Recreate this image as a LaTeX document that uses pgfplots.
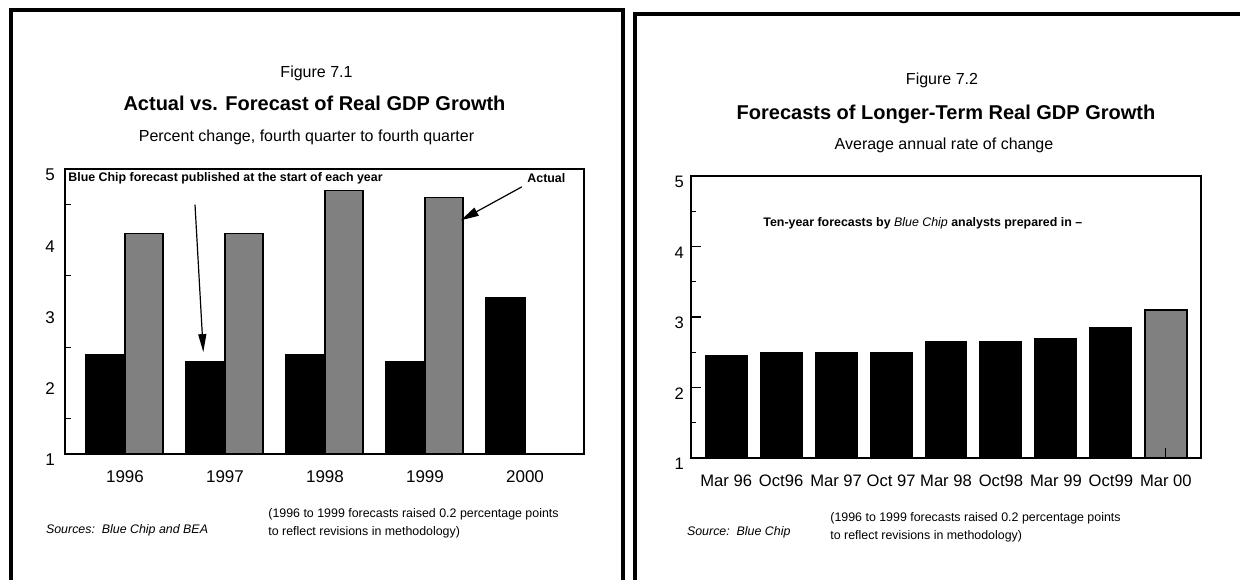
\documentclass[border=0pt]{standalone}
\usepackage{fontspec}
\setmainfont{Liberation Sans}
\usepackage{pgfplots}
\pgfplotsset{compat=1.18}
\usetikzlibrary{arrows.meta}
\definecolor{bargray}{HTML}{808080}
\newcommand{\fs}[1]{\fontsize{#1}{#1}\selectfont}

\begin{document}
\begin{tikzpicture}
\path[use as bounding box] (0pt,0pt) rectangle (620pt,289.5pt);
\clip (0pt,0pt) rectangle (620pt,289.5pt);

% panel frames
\draw[line width=2pt] (5.5pt,-5pt) -- (5.5pt,284.5pt) -- (311.5pt,284.5pt) -- (311.5pt,-5pt);
\draw[line width=2pt] (317.5pt,-5pt) -- (317.5pt,282.5pt) -- (630pt,282.5pt);

% ---------------- Left chart ----------------
\node[anchor=base, font=\fs{8}] at (158.25pt,250.5pt) {Figure 7.1};
\node[anchor=base, font=\bfseries\fs{10}] at (157.25pt,234pt) {Actual vs. Forecast of Real GDP Growth};
\node[anchor=base, font=\fs{8}] at (153.25pt,218.5pt) {Percent change, fourth quarter to fourth quarter};

\begin{axis}[
  at={(32.5pt,62.5pt)}, anchor=south west,
  width=259.5pt, height=142.5pt, scale only axis,
  xmin=-0.6, xmax=4.59, ymin=1, ymax=5,
  xtick={0,1,2,3,4}, xticklabels={1996,1997,1998,1999,2000},
  ytick={1,2,3,4,5}, minor ytick={1.5,2.5,3.5,4.5},
  tick align=inside, ytick pos=left, xtick pos=bottom,
  major tick length=0pt, minor tick length=3pt,
  axis line style={line width=0.6pt},
  every tick/.style={black, line width=0.6pt},
  /pgf/number format/assume math mode=true,
  tick label style={font=\fs{8.5}},
  yticklabel style={yshift=-3pt, xshift=-1.5pt},
  xticklabel style={yshift=-5pt},
]
\addplot[ybar, bar width=0.39, bar shift=-0.195, fill=black, draw=black, line width=0.6pt]
  coordinates {(0,2.4) (1,2.3) (2,2.4) (3,2.3) (4,3.2)};
\addplot[ybar, bar width=0.38, bar shift=0.19, fill=bargray, draw=black, line width=0.6pt]
  coordinates {(0,4.1) (1,4.1) (2,4.7) (3,4.6)};
\node[anchor=west, inner sep=0pt, font=\bfseries\fs{6.2}] at (axis cs:-0.57,4.87)
  {Blue Chip forecast published at the start of each year};
\node[anchor=west, inner sep=0pt, font=\bfseries\fs{6.2}] at (axis cs:4.02,4.87) {Actual};
\draw[line width=0.6pt, -{Triangle[length=9pt,width=4pt]}] (axis cs:0.70,4.5) -- (axis cs:0.783,2.43);
\draw[line width=0.6pt, -{Triangle[length=9pt,width=4.5pt]}] (axis cs:3.969,4.75) -- (axis cs:3.358,4.28);
\end{axis}

\node[anchor=base west, font=\itshape\fs{6.2}] at (19.5pt,23pt) {Sources:\ \ Blue Chip and BEA};
\node[anchor=base west, font=\fs{6.2}, inner sep=0pt] at (134pt,31pt) {(1996 to 1999 forecasts raised 0.2 percentage points};
\node[anchor=base west, font=\fs{6.2}, inner sep=0pt] at (134pt,22pt) {to reflect revisions in methodology)};

% ---------------- Right chart ----------------
\node[anchor=base, font=\fs{8}] at (471pt,247pt) {Figure 7.2};
\node[anchor=base, font=\bfseries\fs{10}] at (473pt,229.5pt) {Forecasts of Longer-Term Real GDP Growth};
\node[anchor=base, font=\fs{8}] at (472pt,214.5pt) {Average annual rate of change};

\begin{axis}[
  at={(345.5pt,60.5pt)}, anchor=south west,
  width=255pt, height=141pt, scale only axis,
  xmin=-0.64, xmax=8.64, ymin=1, ymax=5,
  xtick={0,1,2,3,4,5,6,7,8},
  xticklabels={Mar 96,Oct96,Mar 97,Oct 97,Mar 98,Oct98,Mar 99,Oct99,Mar 00},
  ytick={1,2,3,4,5}, minor ytick={1.5,2.5,3.5,4.5},
  tick align=inside, ytick pos=left, xtick pos=bottom,
  major tick length=5pt, minor tick length=2.5pt,
  axis line style={line width=0.6pt},
  every tick/.style={black, line width=0.6pt},
  axis on top,
  /pgf/number format/assume math mode=true,
  tick label style={font=\fs{8.3}},
  yticklabel style={yshift=-3pt, xshift=0pt},
  xticklabel style={yshift=-5pt},
]
\addplot[ybar, bar width=0.76, bar shift=0, fill=black, draw=black, line width=0.6pt]
  coordinates {(0,2.45) (1,2.5) (2,2.5) (3,2.5) (4,2.65) (5,2.65) (6,2.7) (7,2.85)};
\addplot[ybar, bar width=0.76, bar shift=0, fill=bargray, draw=black, line width=0.8pt]
  coordinates {(8,3.1)};
\node[anchor=west, inner sep=0pt, font=\fs{6.2}] at (axis cs:0.67,4.33)
  {\textbf{Ten-year forecasts by} \textit{Blue Chip} \textbf{analysts prepared in --}};
\end{axis}

\node[anchor=base west, font=\itshape\fs{6.2}] at (340pt,22pt) {Source:\ \ Blue Chip};
\node[anchor=base west, font=\fs{6.2}, inner sep=0pt] at (415pt,29pt) {(1996 to 1999 forecasts raised 0.2 percentage points};
\node[anchor=base west, font=\fs{6.2}, inner sep=0pt] at (415pt,20pt) {to reflect revisions in methodology)};
\end{tikzpicture}
\end{document}
